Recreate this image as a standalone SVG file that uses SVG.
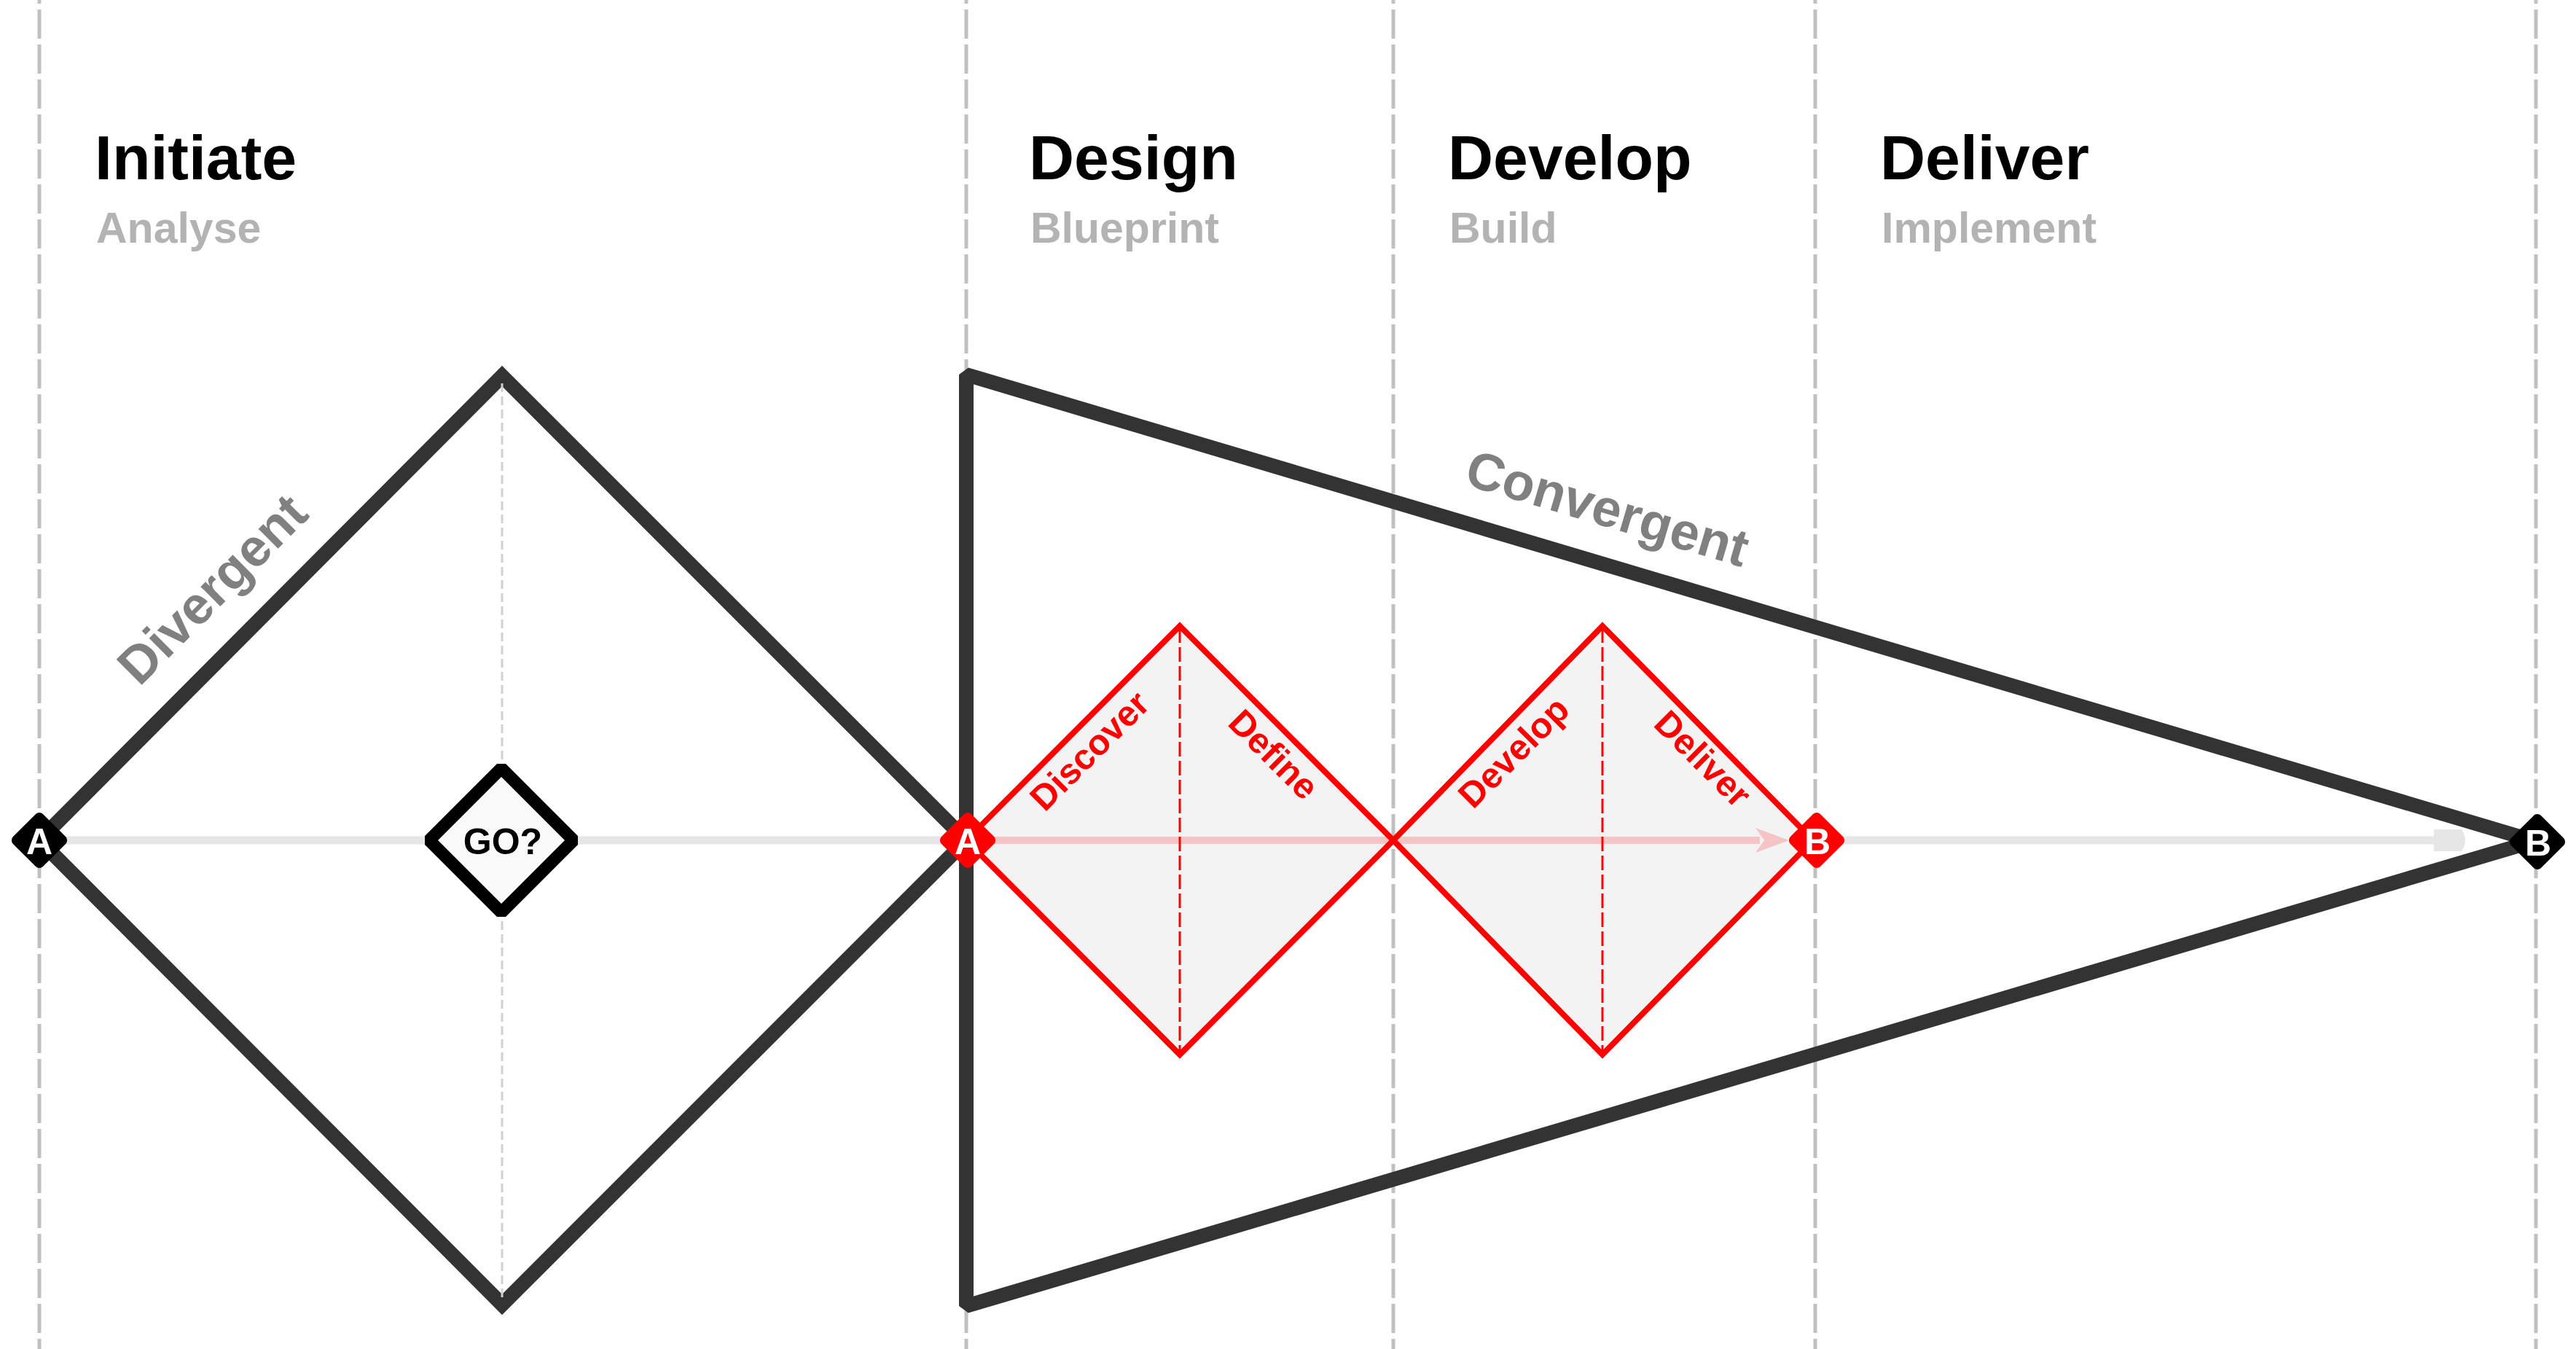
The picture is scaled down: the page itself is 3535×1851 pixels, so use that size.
<svg xmlns="http://www.w3.org/2000/svg" width="3535" height="1851" viewBox="0 0 3535 1851">
<style>
.vl{stroke:#c0c0c0;stroke-width:5;stroke-dasharray:40 8;fill:none}
.t{font-family:"Liberation Sans",Arial,sans-serif;font-weight:bold}
.title{font-size:86px;fill:#000}
.sub{font-size:59px;fill:#b3b3b3}
.big{fill:none;stroke:#333;stroke-width:20}
.lbl{font-size:72px;fill:#808080;text-anchor:middle}
.rfill{fill:#f3f3f3;stroke:none}
.red{fill:none;stroke:#f00;stroke-width:8}
.rdash{stroke:#f00;stroke-width:3;stroke-dasharray:20 6;fill:none}
.rlbl{font-size:49px;fill:#f00;text-anchor:middle}
.mkt{font-size:50px;fill:#fff;text-anchor:middle}
.axis{stroke:#e6e6e6;stroke-width:11;fill:none}
</style>
<rect width="3535" height="1851" fill="#fff"/>
<g id="lanes">
<line class="vl" x1="54" y1="-35" x2="54" y2="1851"/>
<line class="vl" x1="1326" y1="-35" x2="1326" y2="1851"/>
<line class="vl" x1="1912" y1="-35" x2="1912" y2="1851"/>
<line class="vl" x1="2491" y1="-35" x2="2491" y2="1851"/>
<line class="vl" x1="3480" y1="-35" x2="3480" y2="1851"/>
</g>
<g id="headers" class="t">
<text class="title" x="130" y="246">Initiate</text>
<text class="sub" x="132" y="333">Analyse</text>
<text class="title" x="1412" y="246">Design</text>
<text class="sub" x="1414" y="333">Blueprint</text>
<text class="title" x="1987" y="246">Develop</text>
<text class="sub" x="1989" y="333">Build</text>
<text class="title" x="2580" y="246">Deliver</text>
<text class="sub" x="2582" y="333">Implement</text>
</g>
<g id="connectors">
<line class="axis" x1="54" y1="1153" x2="1326" y2="1153"/>
<line class="axis" x1="2490" y1="1153" x2="3380" y2="1153"/>
<path d="M3340 1138 L3378 1138 Q3388 1153 3378 1168 L3340 1168 Z" fill="#e6e6e6"/>
</g>
<g id="divergent">
<polygon class="big" points="54,1153 689,516 1326,1153 689,1790"/>
<line x1="689" y1="526" x2="689" y2="1780" stroke="#d0d0d0" stroke-width="3" stroke-dasharray="12 6"/>
<text class="t lbl" x="296" y="813" dy="18" transform="rotate(-45 296 813)">Divergent</text>
</g>
<g id="convergent">
<polygon class="big" points="1326,514 3478,1154 1326,1792" stroke-linejoin="bevel"/>
<text class="t lbl" x="2204" y="704" dy="18" transform="rotate(16.55 2204 704)">Convergent</text>
</g>
<g id="double-diamond">
<polygon class="rfill" points="1326,1153 1619,859 1912,1153 1619,1447"/>
<polygon class="rfill" points="1912,1153 2199,859 2488,1153 2199,1447"/>
<line x1="1330" y1="1153" x2="2415" y2="1153" stroke="#f5c4c4" stroke-width="10"/>
<polygon points="2455,1153 2409,1136 2421,1153 2409,1170" fill="#f5c4c4"/>
<polygon class="red" points="1326,1153 1619,859 1912,1153 1619,1447"/>
<polygon class="red" points="1912,1153 2199,859 2488,1153 2199,1447"/>
<line class="rdash" x1="1619" y1="862" x2="1619" y2="1444"/>
<line class="rdash" x1="2199" y1="862" x2="2199" y2="1444"/>
<text class="t rlbl" x="1495" y="1030" dy="17" transform="rotate(-45 1495 1030)">Discover</text>
<text class="t rlbl" x="1748" y="1035" dy="17" transform="rotate(45 1748 1035)">Define</text>
<text class="t rlbl" x="2077" y="1032" dy="17" transform="rotate(-45 2077 1032)">Develop</text>
<text class="t rlbl" x="2337" y="1041" dy="17" transform="rotate(45 2337 1041)">Deliver</text>
</g>
<g id="go">
<polygon points="589,1153 688,1054 787,1153 688,1252" fill="#f9f9f9" stroke="#000" stroke-width="17" stroke-linejoin="bevel"/>
<text class="t" x="690" y="1172" font-size="50" text-anchor="middle" fill="#000">GO?</text>
</g>
<g id="start-a">
<rect x="-29" y="-29" width="58" height="58" rx="7" transform="translate(54 1153) rotate(45)" fill="#000"/>
<text class="t mkt" x="54" y="1172">A</text>
</g>
<g id="design-a">
<rect x="-29" y="-29" width="58" height="58" rx="7" transform="translate(1328 1153) rotate(45)" fill="#f00"/>
<text class="t mkt" x="1328" y="1172">A</text>
</g>
<g id="deliver-b">
<rect x="-29" y="-29" width="58" height="58" rx="7" transform="translate(2493 1153) rotate(45)" fill="#f00"/>
<text class="t mkt" x="2494" y="1172">B</text>
</g>
<g id="end-b">
<rect x="-29" y="-29" width="58" height="58" rx="7" transform="translate(3482 1155) rotate(45)" fill="#000"/>
<text class="t mkt" x="3483" y="1174">B</text>
</g>
</svg>
